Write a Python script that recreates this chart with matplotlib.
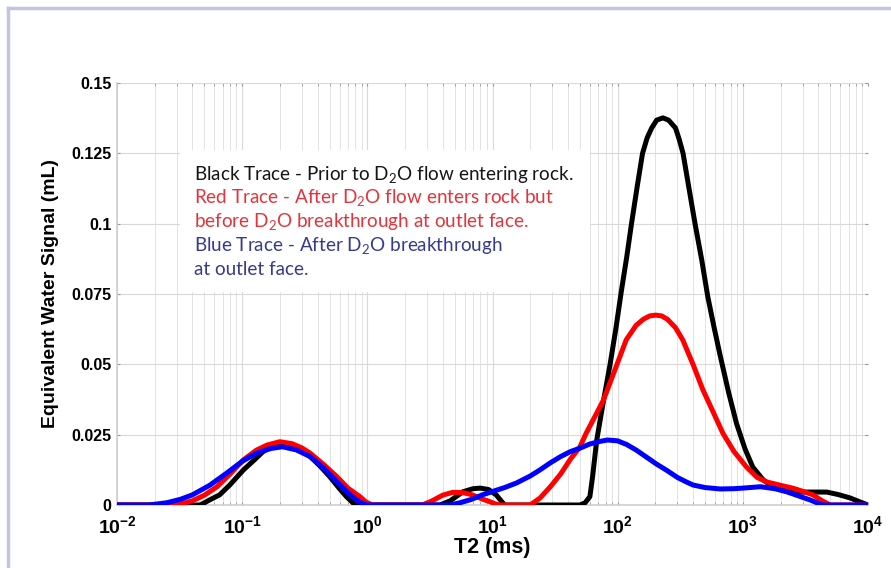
import matplotlib
matplotlib.use("Agg")
import matplotlib.pyplot as plt
from matplotlib.lines import Line2D
from matplotlib.patches import Rectangle
import numpy as np

# ---- data ----
black_t = [0.01, 0.046, 0.05, 0.056, 0.066, 0.08, 0.102, 0.125, 0.147, 0.175, 0.213, 0.26, 0.30,
           0.35, 0.42, 0.50, 0.60, 0.68, 0.75, 0.8,
           3.8, 4.6, 5.8, 7.0, 8.0, 9.3, 10.7, 11.7, 12.5,
           50, 55, 60, 63, 68, 77, 87, 97, 107, 118, 129, 143, 158, 172, 187, 205, 230,
           255, 290, 310, 333, 370, 415, 470, 525, 590, 660, 770, 890, 1040, 1200, 1450,
           1740, 2200, 2880, 3700, 4680, 5800, 7200, 8500, 10000]
black_y = [0, 0, 0.0008, 0.002, 0.0036, 0.0072, 0.0124, 0.016, 0.019, 0.0212, 0.022, 0.0208, 0.019,
           0.0172, 0.0138, 0.0101, 0.0058, 0.003, 0.0012, 0,
           0, 0.0015, 0.0047, 0.0058, 0.006, 0.0055, 0.0036, 0.0015, 0,
           0, 0.0008, 0.003, 0.010, 0.023, 0.037, 0.050, 0.063, 0.076, 0.088, 0.1, 0.113, 0.125, 0.1305, 0.134, 0.1368, 0.1376,
           0.1368, 0.134, 0.130, 0.125, 0.113, 0.1, 0.087, 0.074, 0.063, 0.053, 0.040, 0.029, 0.020, 0.0135, 0.009,
           0.0064, 0.005, 0.0046, 0.0046, 0.0046, 0.0037, 0.0025, 0.0012, 0]

red_t = [0.01, 0.030, 0.04, 0.05, 0.063, 0.08, 0.102, 0.13, 0.158, 0.20, 0.25, 0.30, 0.35, 0.45,
         0.57, 0.70, 0.87, 0.98, 1.1,
         2.75, 3.3, 4.0, 4.8, 5.8, 6.9, 8.2, 9.5, 10.5, 11.5,
         20, 24, 29, 35, 41.5, 50, 56, 65, 77, 95, 117, 140, 160, 180, 202, 225, 250,
         290, 331, 400, 479, 580, 693, 850, 1070, 1300, 1550, 2000, 2500, 3000, 3630, 4300, 5000, 10000]
red_y = [0, 0, 0.0015, 0.0035, 0.0065, 0.011, 0.016, 0.0195, 0.0213, 0.0225, 0.0218, 0.0203, 0.0184, 0.0143,
         0.0101, 0.006, 0.003, 0.001, 0,
         0, 0.0015, 0.0035, 0.0045, 0.0044, 0.0036, 0.0022, 0.0012, 0.0004, 0,
         0, 0.0025, 0.0065, 0.011, 0.016, 0.0207, 0.0255, 0.031, 0.0373, 0.048, 0.0587, 0.0638, 0.066, 0.0672, 0.0675, 0.0672, 0.066,
         0.063, 0.0587, 0.050, 0.041, 0.033, 0.0255, 0.019, 0.0135, 0.0098, 0.0082, 0.007, 0.006, 0.0049, 0.0036, 0.0015, 0, 0]

blue_t = [0.01, 0.018, 0.025, 0.032, 0.04, 0.055, 0.075, 0.10, 0.13, 0.17, 0.21, 0.27, 0.35, 0.45,
          0.57, 0.70, 0.82, 0.92, 1.0,
          4.6, 5.5, 6.8, 8.3, 10, 12.5, 15.5, 20, 24, 29, 35, 42, 50, 60, 72, 83, 100, 118, 141,
          170, 205, 245, 300, 350, 400, 500, 660, 850, 1000, 1380, 1800, 2240, 2800, 3450, 4000, 4400, 10000]
blue_y = [0, 0, 0.0008, 0.002, 0.0036, 0.007, 0.0113, 0.0155, 0.0184, 0.0201, 0.0207, 0.0196, 0.0172, 0.013,
          0.0083, 0.0043, 0.0018, 0.0005, 0,
          0, 0.0008, 0.002, 0.0036, 0.0048, 0.0062, 0.0078, 0.0103, 0.0125, 0.015, 0.0172, 0.019, 0.0202, 0.0217, 0.0226, 0.0231, 0.0228, 0.0215, 0.0195,
          0.017, 0.0145, 0.0124, 0.0098, 0.0083, 0.0071, 0.0062, 0.0057, 0.0058, 0.006, 0.0065, 0.0058, 0.0047, 0.0032, 0.0018, 0.0006, 0, 0]

x_ticks = [1e-2, 1e-1, 1e0, 1e1, 1e2, 1e3, 1e4]
x_tick_labels = [r'$\mathbf{10^{-2}}$', r'$\mathbf{10^{-1}}$', r'$\mathbf{10^{0}}$',
                 r'$\mathbf{10^{1}}$', r'$\mathbf{10^{2}}$', r'$\mathbf{10^{3}}$', r'$\mathbf{10^{4}}$']
y_ticks = [0, 0.025, 0.05, 0.075, 0.1, 0.125, 0.15]
y_tick_labels = ['0', '0.025', '0.05', '0.075', '0.1', '0.125', '0.15']

note_lines = [
    ("Black Trace - Prior to D$_\\mathregular{2}$O flow entering rock.", "#151515"),
    ("Red Trace - After D$_\\mathregular{2}$O flow enters rock but", "#e3343c"),
    ("before D$_\\mathregular{2}$O breakthrough at outlet face.", "#e3343c"),
    ("Blue Trace - After D$_\\mathregular{2}$O breakthrough", "#353b8e"),
    ("at outlet face.", "#353b8e"),
]

# ---- figure ----
plt.rcParams['font.family'] = ['Liberation Sans', 'DejaVu Sans']
plt.rcParams['mathtext.fontset'] = 'custom'
plt.rcParams['mathtext.bf'] = 'Liberation Sans:bold'
plt.rcParams['mathtext.rm'] = 'Liberation Sans'
fig = plt.figure(figsize=(8.91, 5.68), dpi=100)
W, H = 891, 568
ax = fig.add_axes([117 / W, 1 - 505 / H, (868 - 117) / W, (505 - 83) / H])

ax.plot(black_t, black_y, color='black', lw=3.6, zorder=3, solid_joinstyle='round', solid_capstyle='round')
ax.plot(red_t, red_y, color='#ff0000', lw=3.6, zorder=3, solid_joinstyle='round', solid_capstyle='round')
ax.plot(blue_t, blue_y, color='#0000ff', lw=3.6, zorder=3, solid_joinstyle='round', solid_capstyle='round')

ax.set_xscale('log')
ax.set_xlim(1e-2, 1e4)
ax.set_ylim(0, 0.15)
ax.set_xticks(x_ticks)
ax.set_xticklabels(x_tick_labels, fontsize=14)
ax.set_yticks(y_ticks)
ax.set_yticklabels(y_tick_labels, fontsize=11.5, fontweight='bold')
ax.xaxis.set_minor_locator(matplotlib.ticker.LogLocator(base=10, subs=np.arange(2, 10), numticks=20))
ax.xaxis.set_minor_formatter(matplotlib.ticker.NullFormatter())

ax.grid(True, which='major', color='#d9d9d9', lw=0.8)
ax.grid(True, which='minor', axis='x', color='#e3e3e3', lw=0.7)
ax.set_axisbelow(True)
for s in ['top', 'right']:
    ax.spines[s].set_visible(False)
for s in ['left', 'bottom']:
    ax.spines[s].set_color('#cfcfcf')
    ax.spines[s].set_linewidth(1.2)
ax.tick_params(which='both', length=2, color='#999999', top=True, right=True, direction='in')
ax.tick_params(axis='x', which='major', pad=7, labelcolor='black')
ax.tick_params(axis='y', which='major', pad=4, labelcolor='black')

ax.set_xlabel('T2 (ms)', fontsize=15.5, fontweight='bold', labelpad=0)
ax.set_ylabel('Equivalent Water Signal (mL)', fontsize=14, fontweight='bold', labelpad=9)

# white note box
box = Rectangle((180 / W, 1 - 292 / H), (590 - 180) / W, (292 - 150) / H,
                transform=fig.transFigure, facecolor='white', edgecolor='none', zorder=2)
ax.add_patch(box)
box.set_clip_on(False)
for i, (txt, col) in enumerate(note_lines):
    ax.text(194 / W, 1 - (175 + i * 23.7) / H, txt, transform=fig.transFigure,
            fontsize=13.6, color=col, family=['Lato', 'DejaVu Sans'], va='center', ha='left', zorder=4)

# lavender frame
fig.add_artist(Line2D([8 / W, 8 / W], [0, 1 - 8 / H], color='#c4c4e2', lw=2.5, transform=fig.transFigure))
fig.add_artist(Line2D([8 / W, 1], [1 - 8 / H, 1 - 8 / H], color='#c4c4e2', lw=2.5, transform=fig.transFigure))

fig.savefig('out.png', dpi=100)
